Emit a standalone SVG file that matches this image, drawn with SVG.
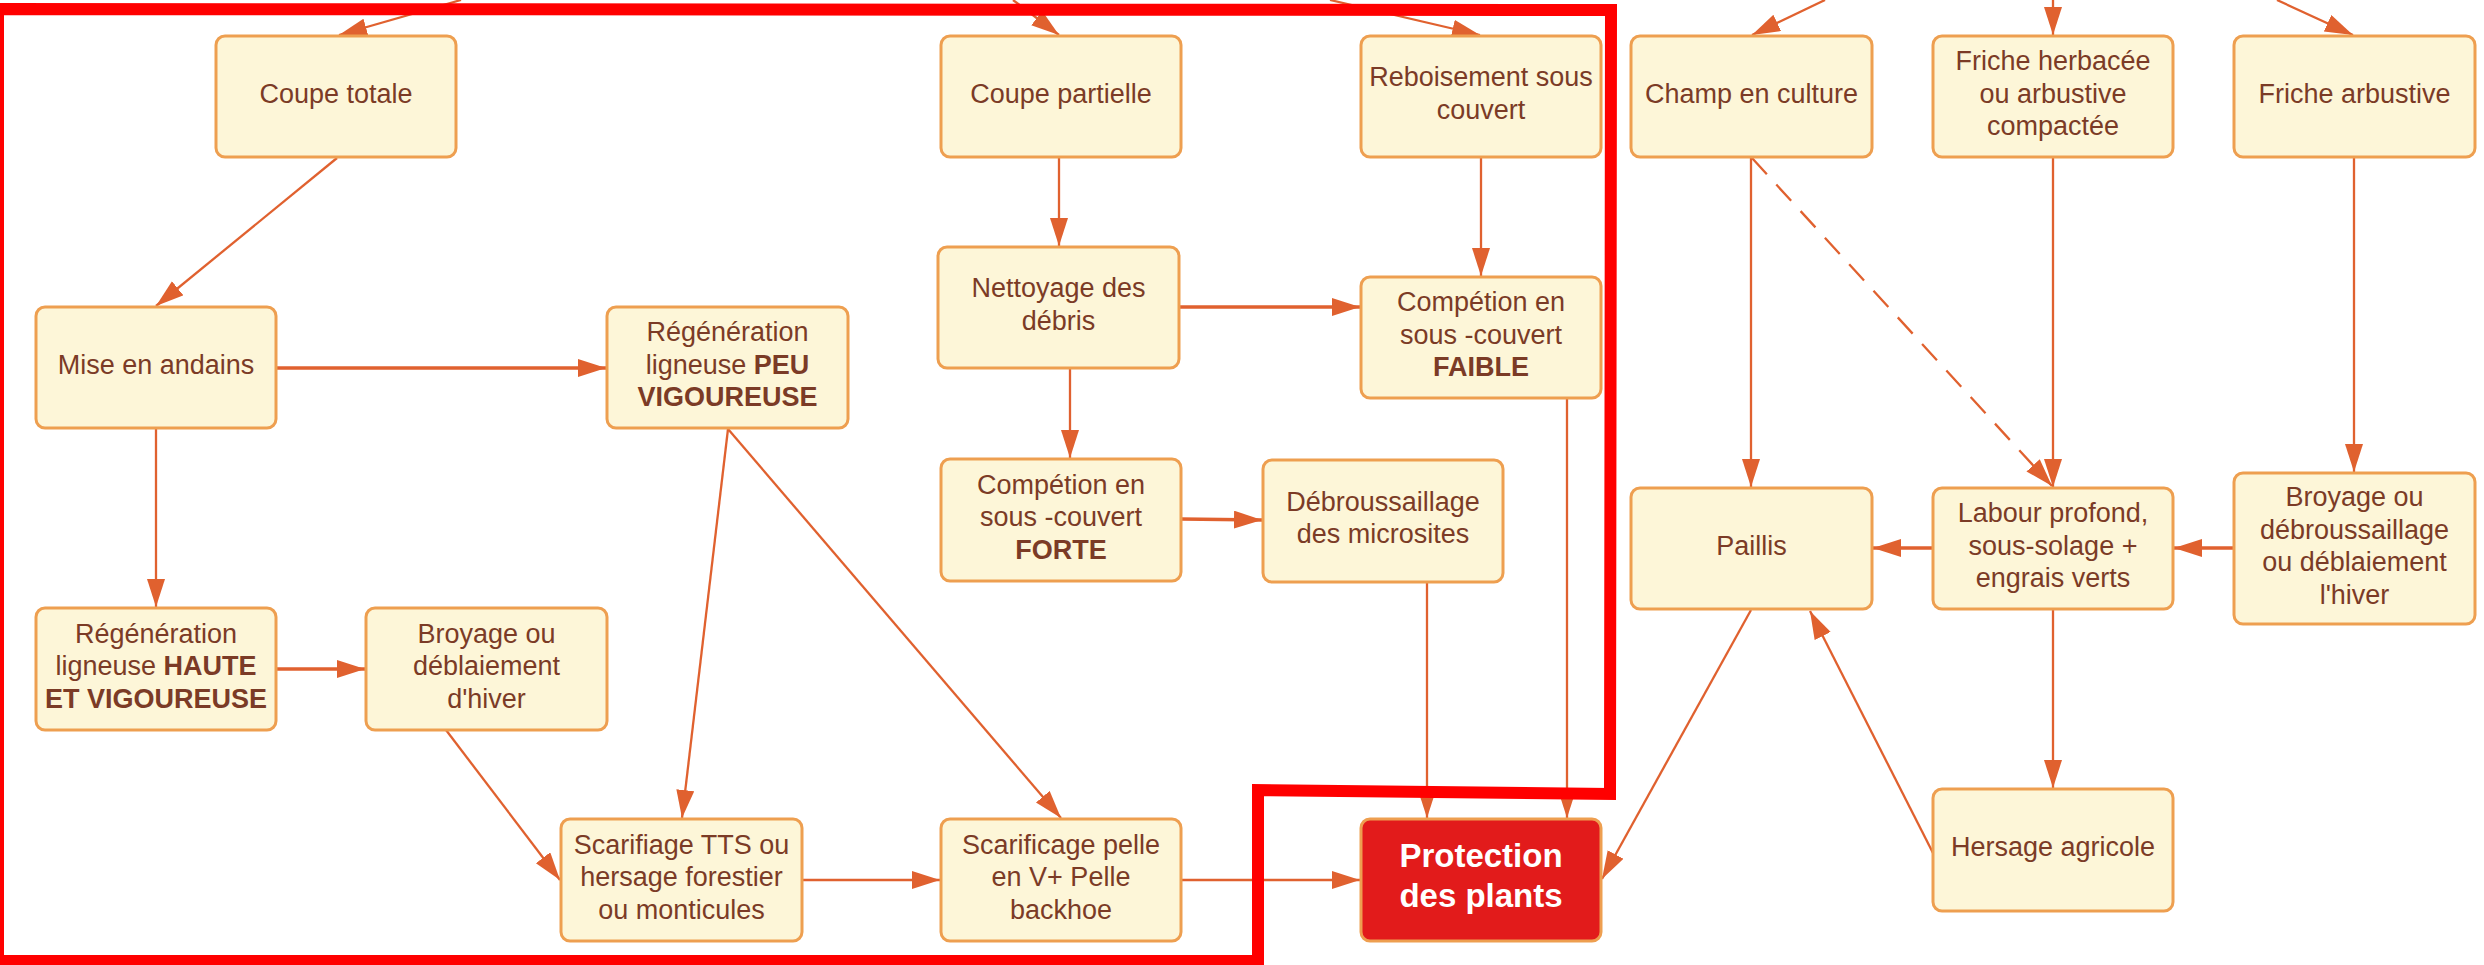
<svg xmlns="http://www.w3.org/2000/svg" width="2484" height="965" viewBox="0 0 2484 965">
<style>
.n rect{fill:#fdf6d8;stroke:#ee9f50;stroke-width:3}
.n text{font-family:"Liberation Sans",Arial,sans-serif;font-size:27px;fill:#7b3b26;text-anchor:middle}
.b{font-weight:bold}
#protection rect{fill:#e21b1b}
#protection text{fill:#ffffff;font-weight:bold;font-size:33px}
#connectors line{stroke:#e0612f;stroke-width:2.3;fill:none;marker-end:url(#ah)}
#connectors line.t{stroke-width:3.5}
#connectors line.d{stroke-dasharray:22 14}
</style>
<defs>
<marker id="ah" markerUnits="userSpaceOnUse" markerWidth="30" markerHeight="20" refX="28" refY="9" orient="auto">
<path d="M0,0 L28,9 L0,18 z" fill="#e0612f"/>
</marker>
</defs>
<rect width="2484" height="965" fill="#ffffff"/>
<g id="connectors">
<line x1="461" y1="0" x2="339" y2="35"/>
<line x1="1013" y1="0" x2="1059" y2="35"/>
<line x1="1330" y1="0" x2="1480" y2="35"/>
<line x1="1825" y1="0" x2="1752" y2="35"/>
<line x1="2053" y1="0" x2="2053" y2="35"/>
<line x1="2277" y1="0" x2="2353" y2="35"/>
<line x1="337" y1="158" x2="156" y2="306"/>
<line class="t" x1="276" y1="368" x2="606" y2="368"/>
<line x1="156" y1="428" x2="156" y2="607"/>
<line class="t" x1="276" y1="669" x2="365" y2="669"/>
<line x1="446" y1="730" x2="560" y2="880"/>
<line x1="728" y1="429" x2="682" y2="818"/>
<line x1="728" y1="429" x2="1061" y2="818"/>
<line x1="802" y1="880" x2="940" y2="880"/>
<line x1="1181" y1="880" x2="1360" y2="880"/>
<line x1="1059" y1="157" x2="1059" y2="246"/>
<line class="t" x1="1179" y1="307" x2="1360" y2="307"/>
<line x1="1481" y1="157" x2="1481" y2="276"/>
<line x1="1070" y1="368" x2="1070" y2="458"/>
<line class="t" x1="1181" y1="519" x2="1262" y2="520"/>
<line x1="1427" y1="582" x2="1427" y2="818"/>
<line x1="1567" y1="398" x2="1567" y2="818"/>
<line x1="1751" y1="157" x2="1751" y2="487"/>
<line class="d" x1="1752" y1="158" x2="2052" y2="486"/>
<line x1="2053" y1="157" x2="2053" y2="487"/>
<line x1="2354" y1="157" x2="2354" y2="472"/>
<line class="t" x1="2234" y1="548" x2="2174" y2="548"/>
<line class="t" x1="1933" y1="548" x2="1873" y2="548"/>
<line x1="2053" y1="609" x2="2053" y2="788"/>
<line x1="1751" y1="610" x2="1602" y2="879"/>
<line x1="1933" y1="853" x2="1810" y2="611"/>
</g>
<g id="coupe-totale" class="n"><rect x="216" y="36" width="240" height="121" rx="9"/><text x="336" y="103">Coupe totale</text></g>
<g id="coupe-partielle" class="n"><rect x="941" y="36" width="240" height="121" rx="9"/><text x="1061" y="103">Coupe partielle</text></g>
<g id="reboisement" class="n"><rect x="1361" y="36" width="240" height="121" rx="9"/><text x="1481" y="86">Reboisement sous</text><text x="1481" y="119">couvert</text></g>
<g id="champ" class="n"><rect x="1631" y="36" width="241" height="121" rx="9"/><text x="1751.5" y="103">Champ en culture</text></g>
<g id="friche-herbacee" class="n"><rect x="1933" y="36" width="240" height="121" rx="9"/><text x="2053" y="70">Friche herbacée</text><text x="2053" y="103">ou arbustive</text><text x="2053" y="135">compactée</text></g>
<g id="friche-arbustive" class="n"><rect x="2234" y="36" width="241" height="121" rx="9"/><text x="2354.5" y="103">Friche arbustive</text></g>
<g id="mise-en-andains" class="n"><rect x="36" y="307" width="240" height="121" rx="9"/><text x="156" y="374">Mise en andains</text></g>
<g id="regen-peu" class="n"><rect x="607" y="307" width="241" height="121" rx="9"/><text x="727.5" y="341">Régénération</text><text x="727.5" y="374">ligneuse <tspan class="b">PEU</tspan></text><text x="727.5" y="406" class="b">VIGOUREUSE</text></g>
<g id="nettoyage" class="n"><rect x="938" y="247" width="241" height="121" rx="9"/><text x="1058.5" y="297">Nettoyage des</text><text x="1058.5" y="330">débris</text></g>
<g id="competion-faible" class="n"><rect x="1361" y="277" width="240" height="121" rx="9"/><text x="1481" y="311">Compétion en</text><text x="1481" y="344">sous -couvert</text><text x="1481" y="376" class="b">FAIBLE</text></g>
<g id="competion-forte" class="n"><rect x="941" y="459" width="240" height="122" rx="9"/><text x="1061" y="494">Compétion en</text><text x="1061" y="526">sous -couvert</text><text x="1061" y="559" class="b">FORTE</text></g>
<g id="debroussaillage" class="n"><rect x="1263" y="460" width="240" height="122" rx="9"/><text x="1383" y="511">Débroussaillage</text><text x="1383" y="543">des microsites</text></g>
<g id="paillis" class="n"><rect x="1631" y="488" width="241" height="121" rx="9"/><text x="1751.5" y="555">Paillis</text></g>
<g id="labour" class="n"><rect x="1933" y="488" width="240" height="121" rx="9"/><text x="2053" y="522">Labour profond,</text><text x="2053" y="555">sous-solage +</text><text x="2053" y="587">engrais verts</text></g>
<g id="broyage-debroussaillage" class="n"><rect x="2234" y="473" width="241" height="151" rx="9"/><text x="2354.5" y="506">Broyage ou</text><text x="2354.5" y="539">débroussaillage</text><text x="2354.5" y="571">ou déblaiement</text><text x="2354.5" y="604">l'hiver</text></g>
<g id="regen-haute" class="n"><rect x="36" y="608" width="240" height="122" rx="9"/><text x="156" y="643">Régénération</text><text x="156" y="675">ligneuse <tspan class="b">HAUTE</tspan></text><text x="156" y="708" class="b">ET VIGOUREUSE</text></g>
<g id="broyage-hiver" class="n"><rect x="366" y="608" width="241" height="122" rx="9"/><text x="486.5" y="643">Broyage ou</text><text x="486.5" y="675">déblaiement</text><text x="486.5" y="708">d'hiver</text></g>
<g id="scarifiage" class="n"><rect x="561" y="819" width="241" height="122" rx="9"/><text x="681.5" y="854">Scarifiage TTS ou</text><text x="681.5" y="886">hersage forestier</text><text x="681.5" y="919">ou monticules</text></g>
<g id="scarificage" class="n"><rect x="941" y="819" width="240" height="122" rx="9"/><text x="1061" y="854">Scarificage pelle</text><text x="1061" y="886">en V+ Pelle</text><text x="1061" y="919">backhoe</text></g>
<g id="protection" class="n"><rect x="1361" y="819" width="240" height="122" rx="9"/><text x="1481" y="867">Protection</text><text x="1481" y="907">des plants</text></g>
<g id="hersage" class="n"><rect x="1933" y="789" width="240" height="122" rx="9"/><text x="2053" y="856">Hersage agricole</text></g>
<path id="zone" d="M-2,9 L1611,10 L1610,794 L1258,790 L1258,961 L-2,961 Z" fill="none" stroke="#ff0000" stroke-width="12"/>
</svg>
